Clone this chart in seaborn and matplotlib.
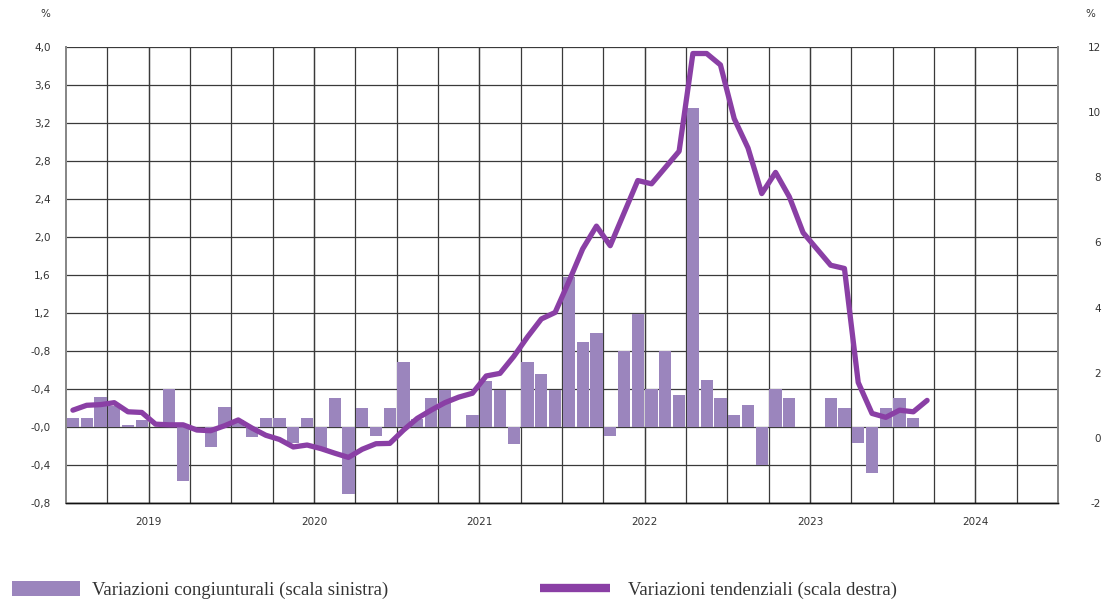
import numpy as np
import pandas as pd
import seaborn as sns
import matplotlib.pyplot as plt
from matplotlib.patches import Patch
from matplotlib.lines import Line2D

# monthly data, Jan 2019 - Mar 2024
mesi = pd.period_range('2019-01', periods=63, freq='M').astype(str)

# variazioni congiunturali (scala sinistra)
congiunturali = [
    0.10, 0.10, 0.32, 0.22, 0.02, 0.07, 0.00, 0.40, -0.57, 0.00, -0.21, 0.21,
    0.07, -0.11, 0.09, 0.09, -0.17, 0.09, -0.22, 0.31, -0.70, 0.20, -0.09, 0.20,
    0.68, 0.08, 0.31, 0.39, 0.00, 0.13, 0.48, 0.39, -0.18, 0.68, 0.56, 0.39,
    1.58, 0.90, 0.99, -0.09, 0.80, 1.19, 0.40, 0.80, 0.34, 3.36, 0.50, 0.31,
    0.13, 0.23, -0.40, 0.40, 0.31, 0.00, 0.00, 0.31, 0.20, -0.17, -0.48, 0.20,
    0.31, 0.10, 0.00,
]

# variazioni tendenziali (scala destra)
tendenziali = [
    0.85, 1.00, 1.02, 1.08, 0.80, 0.78, 0.42, 0.40, 0.40, 0.24, 0.22, 0.37,
    0.55, 0.30, 0.08, -0.05, -0.28, -0.22, -0.33, -0.47, -0.60, -0.35, -0.18, -0.17,
    0.24, 0.60, 0.85, 1.08, 1.25, 1.37, 1.90, 1.98, 2.50, 3.10, 3.65, 3.85,
    4.80, 5.80, 6.50, 5.90, 6.90, 7.90, 7.80, 8.30, 8.80, 11.80, 11.80, 11.45,
    9.80, 8.90, 7.50, 8.15, 7.40, 6.30, 5.80, 5.30, 5.20, 1.70, 0.75, 0.63,
    0.85, 0.80, 1.15,
]

anni = ['2019', '2020', '2021', '2022', '2023', '2024']
left_ticks = ['-0,8', '-0,4', '-0,0', '-0,4', '-0,8', '1,2', '1,6',
              '2,0', '2,4', '2,8', '3,2', '3,6', '4,0']
right_ticks = ['-2', '0', '2', '4', '6', '8', '10', '12']

BAR_C = '#9b85bd'
LINE_C = '#8a3fa5'
GRID_C = '#3a3a3a'
TXT_C = '#333333'

df = pd.DataFrame({'mese': mesi, 'pos': np.arange(len(mesi)),
                   'cong': congiunturali, 'tend': tendenziali})

sns.set_style('white')
plt.rcParams['font.family'] = ['DejaVu Sans']

fig = plt.figure(figsize=(11.19, 6.03), dpi=100)
ax = fig.add_axes([66 / 1119, 1 - 503 / 603, (1058 - 66) / 1119, (503 - 47) / 603])

sns.barplot(data=df, x='mese', y='cong', ax=ax, color=BAR_C, saturation=1,
            width=0.88, linewidth=0, zorder=2)

ax.set_ylim(-0.8, 4.0)
ax.set_yticks(np.linspace(-0.8, 4.0, 13))
ax.set_yticklabels(left_ticks)

ax.set_xticks(np.arange(5.5, 72, 12))
ax.set_xticklabels(anni)
ax.set_xticks(np.arange(2.5, 71, 3), minor=True)
ax.xaxis.remove_overlapping_locs = False
ax.set_xlim(-0.5, 71.5)

ax.set_axisbelow(True)
ax.grid(axis='y', color=GRID_C, lw=0.9)
ax.grid(axis='x', which='both', color=GRID_C, lw=0.9)
ax.set_xlabel('')
ax.set_ylabel('')
ax.tick_params(axis='both', which='both', length=0, labelsize=7.5, labelcolor=TXT_C)
ax.tick_params(axis='y', pad=11)
ax.tick_params(axis='x', pad=10)

# line on right scale
ax2 = ax.twinx()
sns.lineplot(data=df, x='pos', y='tend', ax=ax2, color=LINE_C, lw=3.8)
ax2.set_ylim(-2, 12)
ax2.set_yticks(np.arange(-2, 13, 2))
ax2.set_yticklabels(right_ticks)
ax2.set_xlim(-0.5, 71.5)
ax2.grid(False)
ax2.set_ylabel('')
ax2.tick_params(axis='y', length=0, labelsize=7.5, labelcolor=TXT_C, pad=31)
for lab in ax2.get_yticklabels():
    lab.set_ha('right')

for a in (ax, ax2):
    a.spines['top'].set_visible(False)
    a.spines['left'].set_color('#888888')
    a.spines['left'].set_linewidth(1.4)
    a.spines['right'].set_color('#888888')
    a.spines['right'].set_linewidth(1.4)
    a.spines['bottom'].set_color('#111111')
    a.spines['bottom'].set_linewidth(1.0)

fig.text(45 / 1119, 1 - 14 / 603, '%', ha='center', va='center', fontsize=7.5, color=TXT_C)
fig.text(1090 / 1119, 1 - 14 / 603, '%', ha='center', va='center', fontsize=7.5, color=TXT_C)

# legend
serif = {'family': 'Liberation Serif', 'size': 13.5}
fig.legend([Patch(facecolor=BAR_C, edgecolor='none')],
           ['Variazioni congiunturali (scala sinistra)'],
           loc='center left', bbox_to_anchor=(12 / 1119, 1 - 590 / 603),
           frameon=False, handlelength=3.6, handleheight=0.85, handletextpad=0.65,
           borderpad=0, borderaxespad=0, prop=serif, labelcolor=TXT_C)
fig.legend([Line2D([], [], color=LINE_C, lw=6, solid_capstyle='butt')],
           ['Variazioni tendenziali (scala destra)'],
           loc='center left', bbox_to_anchor=(540 / 1119, 1 - 590 / 603),
           frameon=False, handlelength=3.75, handletextpad=0.95,
           borderpad=0, borderaxespad=0, prop=serif, labelcolor=TXT_C)

fig.savefig('out.png', dpi=100)
